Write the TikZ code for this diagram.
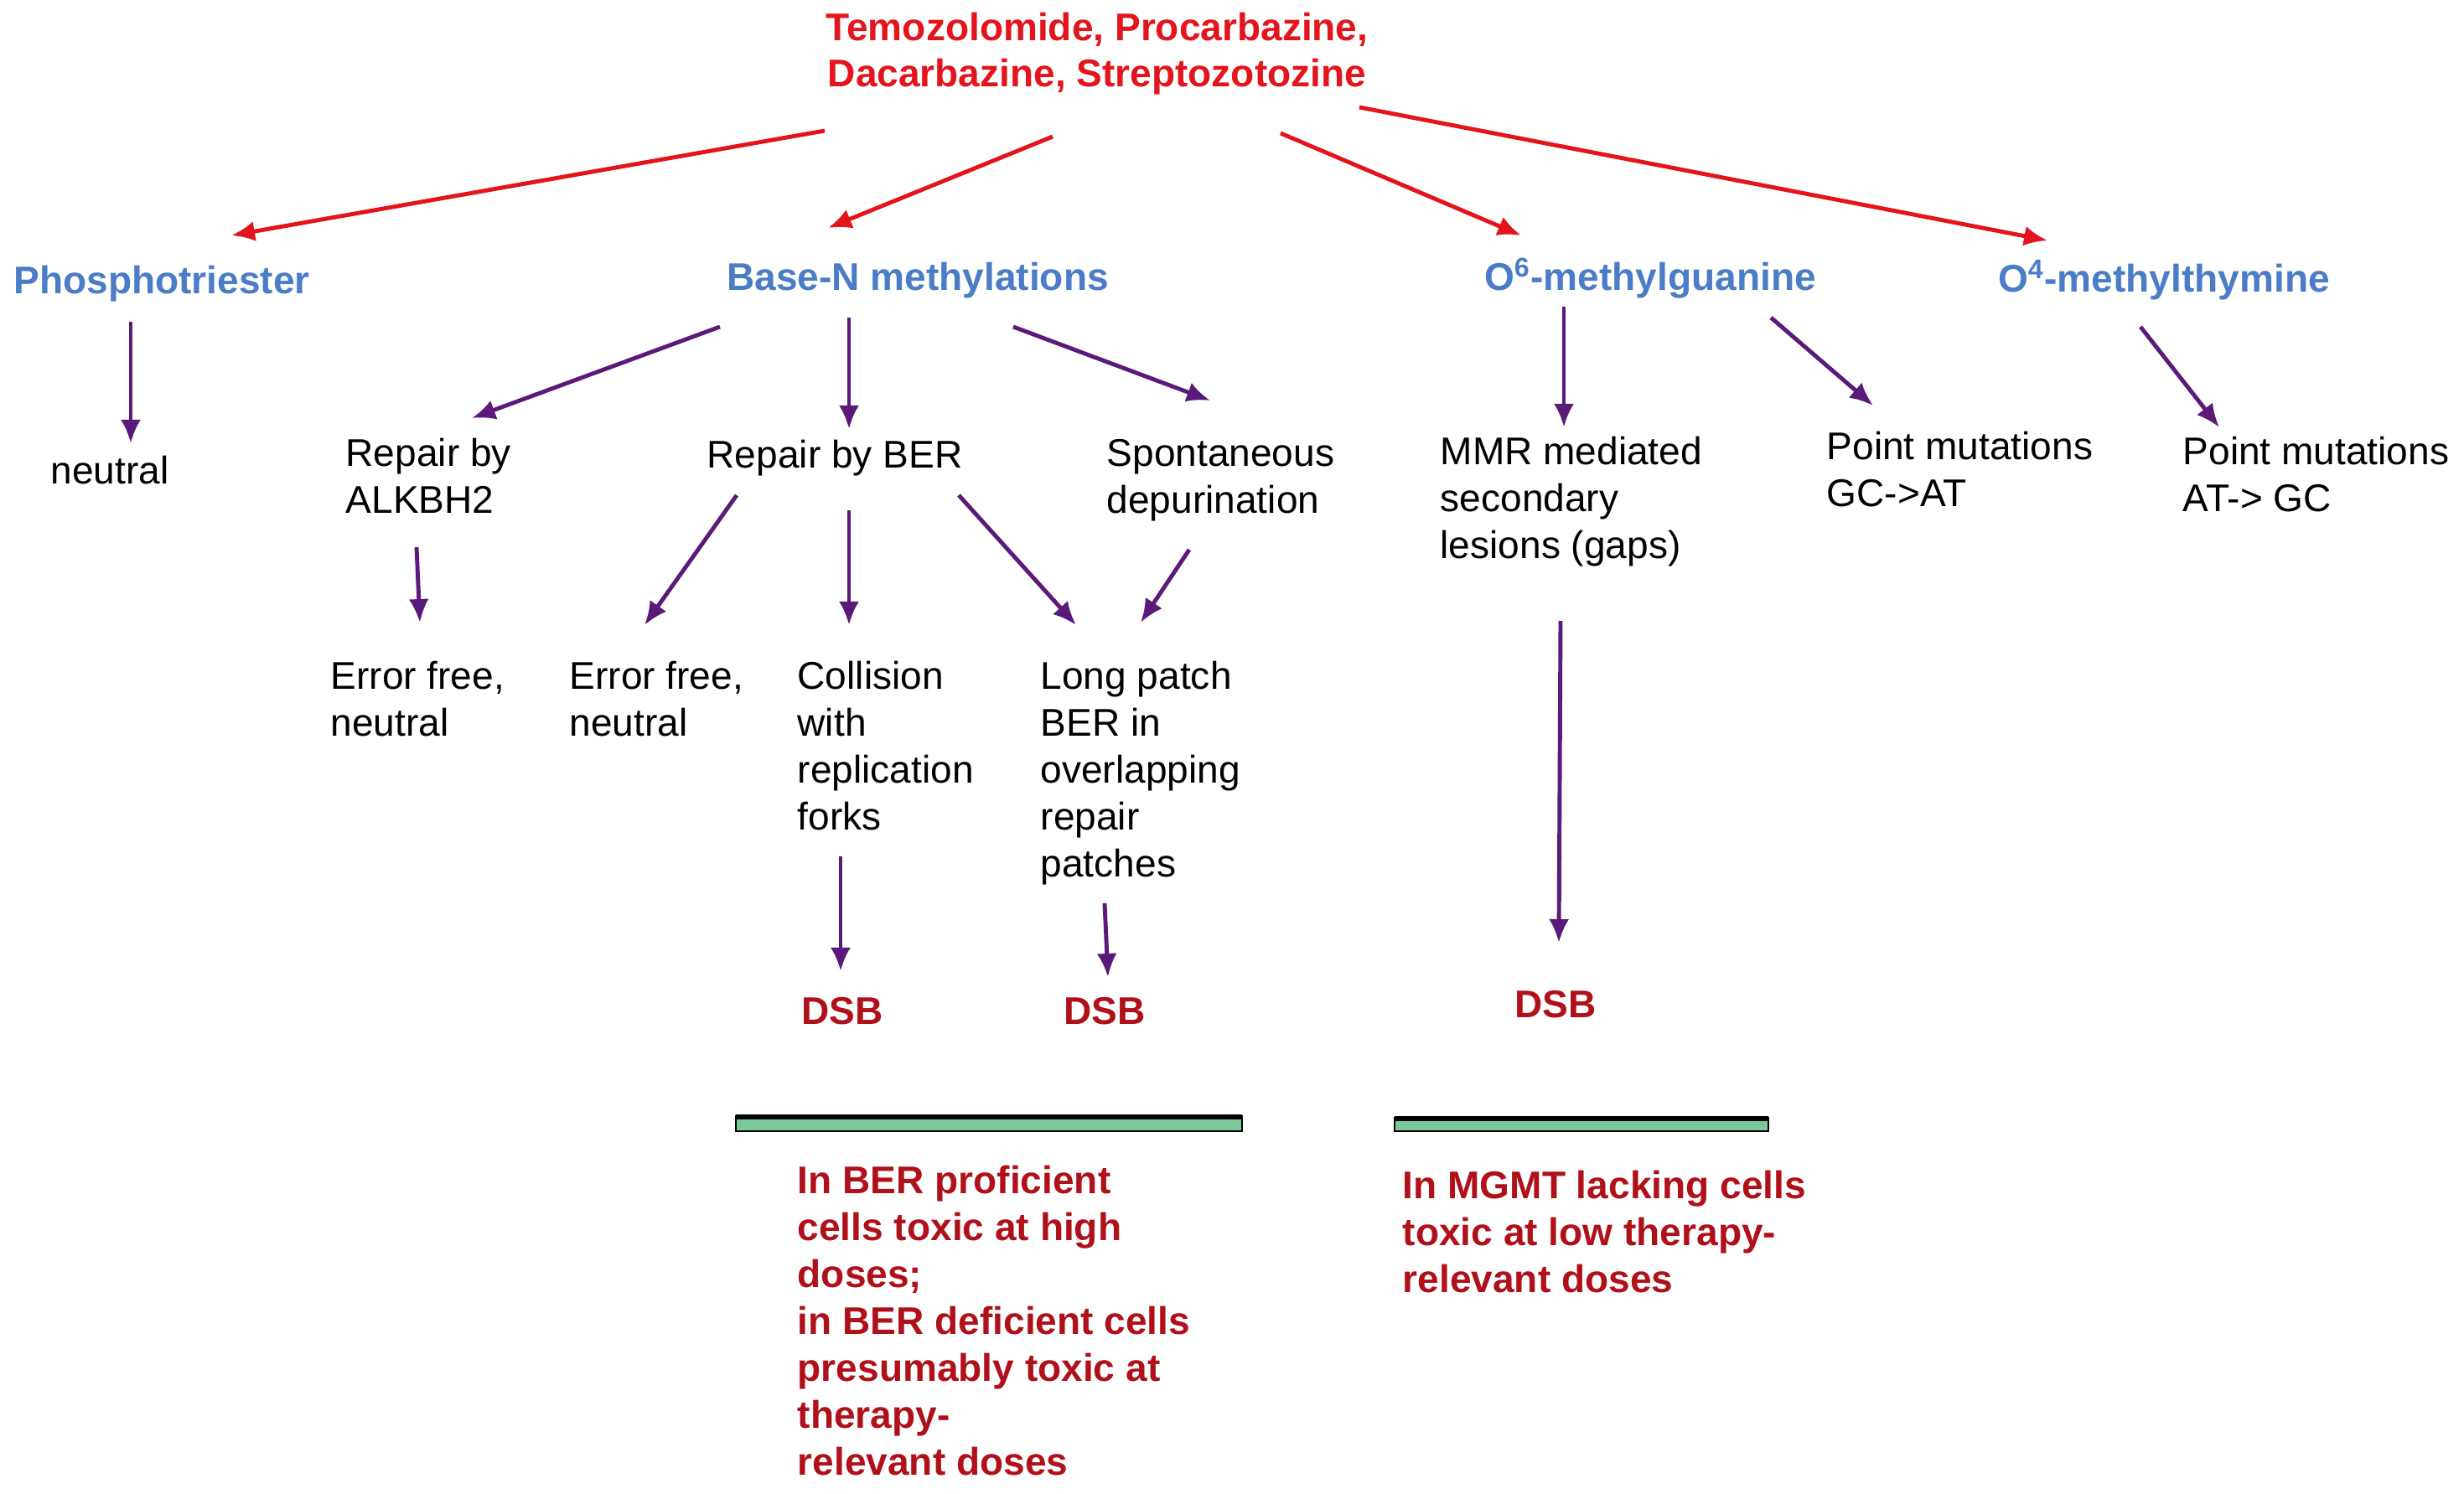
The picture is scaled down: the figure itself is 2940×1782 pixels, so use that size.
\documentclass[tikz,border=0pt]{standalone}
\usepackage{fontspec}
\setmainfont{Liberation Sans}
\usetikzlibrary{arrows.meta}
\definecolor{tred}{HTML}{E3141C}
\definecolor{tblue}{HTML}{4A7CC7}
\definecolor{dred}{HTML}{B0101A}
\definecolor{purp}{HTML}{5B1A7A}
\definecolor{bgreen}{HTML}{7BC99A}
\begin{document}
\begin{tikzpicture}[x=0.01cm,y=-0.01cm,
  txt/.style={inner sep=0,anchor=base west,align=left,font=\fontsize{13.1}{15.9}\selectfont},
  red/.style={inner sep=0,anchor=base,align=center,font=\bfseries\fontsize{13.1}{15.9}\selectfont,text=tred},
  blu/.style={inner sep=0,anchor=base,font=\bfseries\fontsize{13.1}{15.9}\selectfont,text=tblue},
  dsb/.style={inner sep=0,anchor=base,font=\bfseries\fontsize{13.1}{15.9}\selectfont,text=dred},
  note/.style={txt,font=\bfseries\fontsize{13.1}{15.9}\selectfont,text=dred},
  ra/.style={draw=tred,line width=1.4pt,-{Latex[length=0.28cm,width=0.24cm]}},
  pa/.style={draw=purp,line width=1.4pt,-{Latex[length=0.28cm,width=0.24cm]}},
  bar/.style={fill=bgreen,draw=black,line width=0.4pt}]
\useasboundingbox (0,0) rectangle (2940,1782);
\node[red] (top) at (1309,104) {Temozolomide, Procarbazine,\\Dacarbazine, Streptozotozine};
\node[blu] (ph) at (193,350) {Phosphotriester};
\node[blu] (bn) at (1095,346) {Base-N methylations};
\node[blu] (o6) at (1969,346) {O\textsuperscript{6}-methylguanine};
\node[blu] (o4) at (2582,348) {O\textsuperscript{4}-methylthymine};
\draw[ra] (984,156) -- (276,281);
\draw[ra] (1256,163) -- (988,272);
\draw[ra] (1528,159) -- (1815,281);
\draw[ra] (1622,128) -- (2443,287);
\node[txt] (neu) at (60,577) {neutral};
\node[txt] (alk) at (412,612) {Repair by\\ALKBH2};
\node[txt,anchor=base] (ber) at (996,558) {Repair by BER};
\node[txt] (spo) at (1320,612) {Spontaneous\\depurination};
\node[txt] (mmr) at (1718,666) {MMR mediated\\secondary\\lesions (gaps)};
\node[txt] (pm1) at (2179,604) {Point mutations\\GC->AT};
\node[txt] (pm2) at (2604,610) {Point mutations\\AT-> GC};
\draw[pa] (156,384) -- (156,529);
\draw[pa] (859,390) -- (563,499);
\draw[pa] (1013,379) -- (1013,512);
\draw[pa] (1209,390) -- (1444,478);
\draw[pa] (1866,366) -- (1866,510);
\draw[pa] (2113,379) -- (2235,484);
\draw[pa] (2554,390) -- (2648,510);
\node[txt] (ef1) at (394,878) {Error free,\\neutral};
\node[txt] (ef2) at (679,878) {Error free,\\neutral};
\node[txt] (col) at (951,990) {Collision\\with\\replication\\forks};
\node[txt] (lp) at (1241,1046) {Long patch\\BER in\\overlapping\\repair\\patches};
\draw[pa] (497,653) -- (501,743);
\draw[pa] (879,591) -- (769,746);
\draw[pa] (1013,609) -- (1013,746);
\draw[pa] (1144,591) -- (1284,746);
\draw[pa] (1419,656) -- (1361,743);
\draw[pa] (1003,1022) -- (1003,1159);
\draw[pa] (1318,1078) -- (1322,1166);
\draw[pa] (1862,741) -- (1860,1125);
\node[dsb] (d1) at (1005,1222) {DSB};
\node[dsb] (d2) at (1318,1222) {DSB};
\node[dsb] (d3) at (1856,1214) {DSB};
\draw[bar] (878,1350) -- (878,1332) -- (1482,1332) -- (1482,1350) -- cycle;
\draw[black,line width=1.6pt] (878,1333) -- (1482,1333);
\draw[bar] (1664,1350) -- (1664,1334) -- (2110,1334) -- (2110,1350) -- cycle;
\draw[black,line width=1.6pt] (1664,1335) -- (2110,1335);
\node[note] (n1) at (951,1760) {In BER proficient\\cells toxic at high\\doses;\\in BER deficient cells\\presumably toxic at\\therapy-\\relevant doses};
\node[note] (n2) at (1673,1542) {In MGMT lacking cells\\toxic at low therapy-\\relevant doses};
\end{tikzpicture}
\end{document}
